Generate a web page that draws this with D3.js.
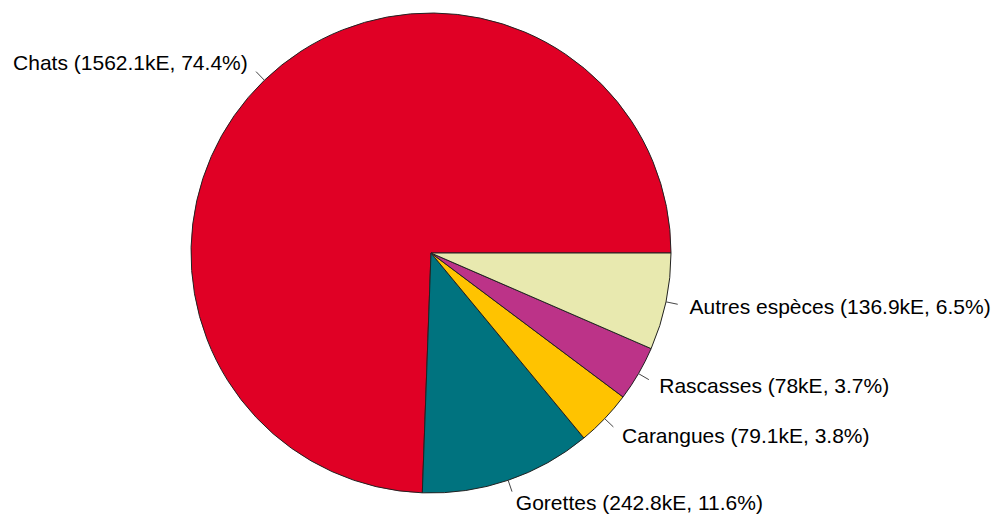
<!DOCTYPE html>
<html>
<head>
<meta charset="utf-8">
<script src="https://cdn.jsdelivr.net/npm/d3@7"></script>
<style>
  body { margin: 0; background: #fff; }
  svg text { font-family: "Liberation Sans", Arial, sans-serif; font-size: 21px; fill: #000; }
</style>
</head>
<body>
<div id="chart"></div>
<script>
// pie of catch values (kE), base-R style: starts at 3 o'clock, goes counterclockwise
const width = 1005;
const height = 518;

const species = ["Chats", "Gorettes", "Carangues", "Rascasses", "Autres espèces"];
const values = [1562.1, 242.8, 79.1, 78, 136.9];
const valueLabels = ["1562.1kE", "242.8kE", "79.1kE", "78kE", "136.9kE"];
const percentLabels = ["74.4%", "11.6%", "3.8%", "3.7%", "6.5%"];
const colors = ["#e00025", "#00737f", "#ffc300", "#bc3388", "#e8e9af"];

const cx = 431;
const cy = 253;
const radius = 240;

const svg = d3.select("#chart")
  .append("svg")
  .attr("width", width)
  .attr("height", height);

const g = svg.append("g").attr("transform", `translate(${cx},${cy})`);

// d3 angles are clockwise from 12 o'clock; R's are counterclockwise from 3 o'clock
const pie = d3.pie()
  .sort(null)
  .startAngle(Math.PI / 2)
  .endAngle(Math.PI / 2 - 2 * Math.PI)
  .value(d => d);

const arcs = pie(values);

const arc = d3.arc().innerRadius(0).outerRadius(radius);

g.selectAll("path")
  .data(arcs)
  .enter()
  .append("path")
  .attr("d", arc)
  .attr("fill", (d, i) => colors[i])
  .attr("stroke", "#222")
  .attr("stroke-width", 1);

// position along the mid angle at a given radius
function pointAt(d, r) {
  const a = (d.startAngle + d.endAngle) / 2;
  return [r * Math.sin(a), -r * Math.cos(a)];
}

g.selectAll("line.tick")
  .data(arcs)
  .enter()
  .append("line")
  .attr("class", "tick")
  .attr("x1", d => pointAt(d, radius)[0])
  .attr("y1", d => pointAt(d, radius)[1])
  .attr("x2", d => pointAt(d, radius * 1.05)[0])
  .attr("y2", d => pointAt(d, radius * 1.05)[1])
  .attr("stroke", "#444")
  .attr("stroke-width", 1);

g.selectAll("text")
  .data(arcs)
  .enter()
  .append("text")
  .attr("x", d => pointAt(d, radius * 1.1)[0])
  .attr("y", d => pointAt(d, radius * 1.1)[1])
  .attr("dy", "0.35em")
  .attr("text-anchor", d => pointAt(d, 1)[0] < 0 ? "end" : "start")
  .text((d, i) => `${species[i]} (${valueLabels[i]}, ${percentLabels[i]})`);
</script>
</body>
</html>
